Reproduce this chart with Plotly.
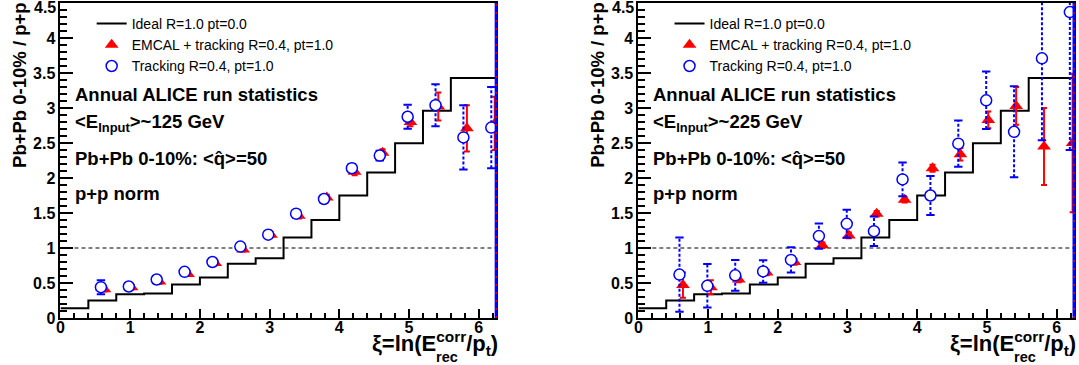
import plotly.graph_objects as go

# ---------------- data ----------------
bin_edges = [0.0, 0.4, 0.8, 1.2, 1.6, 2.0, 2.4, 2.8, 3.2, 3.6, 4.0, 4.4, 4.8, 5.2, 5.6, 6.0, 6.4]
ideal = [0.14, 0.25, 0.34, 0.35, 0.48, 0.58, 0.775, 0.855, 1.15, 1.40, 1.75, 2.08, 2.495, 2.96, 3.43, 3.43]

# <E_Input> ~ 125 GeV
emc125_x = [0.63, 1.02, 1.42, 1.83, 2.22, 2.62, 3.02, 3.42, 3.82, 4.22, 4.62, 5.02, 5.42, 5.83, 6.23]
emc125_y = [0.41, 0.44, 0.52, 0.63, 0.785, 0.98, 1.19, 1.46, 1.72, 2.09, 2.36, 2.80, 3.02, 2.71, 2.78]
emc125_err = [0.03, 0.03, 0.03, 0.03, 0.03, 0.03, 0.03, 0.04, 0.04, 0.05, 0.05, 0.06, 0.20, 0.33, 0.38]
trk125_x = [0.58, 0.98, 1.38, 1.78, 2.18, 2.58, 2.98, 3.38, 3.78, 4.18, 4.58, 4.98, 5.38, 5.78, 6.18]
trk125_y = [0.44, 0.45, 0.55, 0.66, 0.80, 1.02, 1.19, 1.49, 1.70, 2.14, 2.32, 2.875, 3.04, 2.58, 2.72]
trk125_err = [0.10, 0.05, 0.05, 0.04, 0.04, 0.04, 0.04, 0.05, 0.05, 0.06, 0.07, 0.17, 0.30, 0.46, 0.58]

# <E_Input> ~ 225 GeV
emc225_x = [0.64, 1.04, 1.44, 1.84, 2.24, 2.64, 3.02, 3.42, 3.82, 4.22, 4.62, 5.02, 5.42, 5.82, 6.23]
emc225_y = [0.47, 0.44, 0.55, 0.65, 0.80, 1.04, 1.18, 1.49, 1.69, 2.14, 2.34, 2.83, 3.03, 2.45, 2.50]
emc225_err = [0.18, 0.10, 0.04, 0.04, 0.04, 0.04, 0.04, 0.04, 0.04, 0.05, 0.09, 0.12, 0.27, 0.55, 0.99]
trk225_x = [0.59, 0.99, 1.39, 1.79, 2.19, 2.59, 2.99, 3.38, 3.79, 4.19, 4.59, 4.99, 5.39, 5.79, 6.19]
trk225_y = [0.62, 0.46, 0.61, 0.665, 0.83, 1.17, 1.345, 1.24, 1.98, 1.75, 2.49, 3.11, 2.66, 3.71, 4.37]
trk225_err = [0.53, 0.31, 0.22, 0.16, 0.18, 0.18, 0.20, 0.21, 0.24, 0.28, 0.33, 0.41, 0.65, 1.17, 1.97]

ref_level = 1.0
x_range = [0, 6.25]
y_range = [0, 4.5]
x_tick_vals = [0, 1, 2, 3, 4, 5, 6]
x_tick_text = ["0", "1", "2", "3", "4", "5", "6"]
y_tick_vals = [0, 0.5, 1, 1.5, 2, 2.5, 3, 3.5, 4, 4.5]
y_tick_text = ["0", "0.5", "1", "1.5", "2", "2.5", "3", "3.5", "4", "4.5"]

legend_labels = ["Ideal R=1.0 pt=0.0", "EMCAL + tracking R=0.4, pt=1.0", "Tracking R=0.4, pt=1.0"]
energy_labels = ["&lt;E<sub>Input</sub>&gt;~125 GeV", "&lt;E<sub>Input</sub>&gt;~225 GeV"]
text_lines = ["Annual ALICE run statistics", None, "Pb+Pb 0-10%: &lt;q\u0302&gt;=50", "p+p norm"]

# ---------------- layout geometry ----------------
W, H = 1079, 365
MT, MB = 3, 47
PH = H - MT - MB
FONT = "Liberation Sans, Arial, Helvetica, sans-serif"
RED = "#ff0000"
BLUE = "#0000ff"

def px2x(px):
    return px / W

def py2y(py):
    return (H - MB - py) / PH

def bold(labels):
    return [f"<b>{t}</b>" for t in labels]

panels = [
    dict(xa="x", ya="y", xaxis="xaxis", yaxis="yaxis", legend="legend", off=0.0,
         dom=[56.7 / W, 494.0 / W],
         emc=(emc125_x, emc125_y, emc125_err), trk=(trk125_x, trk125_y, trk125_err), energy=energy_labels[0]),
    dict(xa="x2", ya="y2", xaxis="xaxis2", yaxis="yaxis2", legend="legend2", off=580.0,
         dom=[636.7 / W, 1074.0 / W],
         emc=(emc225_x, emc225_y, emc225_err), trk=(trk225_x, trk225_y, trk225_err), energy=energy_labels[1]),
]

fig = go.Figure()
annotations = []
shapes = []
layout_axes = {}
tickfont = dict(family=FONT, size=16, color="black", weight="bold")

for p in panels:
    xa, ya = p["xa"], p["ya"]
    # ideal step histogram
    fig.add_trace(go.Scatter(
        x=bin_edges, y=ideal + [ideal[-1]], mode="lines", line=dict(color="black", width=2, shape="hv"),
        name=legend_labels[0], xaxis=xa, yaxis=ya, legend=p["legend"]))
    # EMCAL + tracking
    ex, ey, ee = p["emc"]
    fig.add_trace(go.Scatter(
        x=ex, y=ey, mode="markers", name=legend_labels[1], xaxis=xa, yaxis=ya, legend=p["legend"],
        marker=dict(symbol="triangle-up", size=12, color=RED, line=dict(width=0)),
        error_y=dict(type="data", array=ee, color=RED, thickness=2, width=3)))
    # tracking dashed error bars
    tx, ty, te = p["trk"]
    bx, by = [], []
    for xi, yi, ei in zip(tx, ty, te):
        bx += [xi, xi, None]
        by += [yi - ei, yi + ei, None]
    fig.add_trace(go.Scatter(
        x=bx, y=by, mode="lines+markers", showlegend=False, xaxis=xa, yaxis=ya, hoverinfo="skip",
        line=dict(color=BLUE, width=2, dash="3px,2px"),
        marker=dict(symbol="line-ew", size=6, line=dict(color=BLUE, width=2))))
    fig.add_trace(go.Scatter(
        x=tx, y=ty, mode="markers", name=legend_labels[2], xaxis=xa, yaxis=ya, legend=p["legend"],
        marker=dict(symbol="circle", size=11, color="white", line=dict(color=BLUE, width=1.5))))

    layout_axes[p["xaxis"]] = dict(
        domain=p["dom"], range=x_range, anchor=ya, showgrid=False, zeroline=False,
        showline=True, mirror=True, linecolor="black", linewidth=2,
        ticks="inside", ticklen=9, tickwidth=1.5, tickcolor="black",
        tickmode="array", tickvals=x_tick_vals, ticktext=bold(x_tick_text), ticklabelstandoff=-6,
        minor=dict(dtick=0.2, tick0=0, ticks="inside", ticklen=5, tickwidth=1.5, tickcolor="black", showgrid=False),
        tickfont=tickfont)
    layout_axes[p["yaxis"]] = dict(
        domain=[0, 1], range=y_range, anchor=xa, showgrid=False, zeroline=False,
        showline=True, mirror=True, linecolor="black", linewidth=2,
        ticks="inside", ticklen=13, tickwidth=1.5, tickcolor="black",
        tickmode="array", tickvals=y_tick_vals, ticktext=bold(y_tick_text),
        minor=dict(dtick=0.1, tick0=0, ticks="inside", ticklen=7, tickwidth=1.5, tickcolor="black", showgrid=False),
        tickfont=tickfont)

    # top tick label (plotly drops the label at the very edge of the figure)
    annotations.append(dict(text=bold(y_tick_text)[-1], x=p["dom"][0], y=y_tick_vals[-1], xref="paper", yref=ya,
                            xanchor="right", yanchor="middle", xshift=-2, yshift=-4, showarrow=False,
                            font=tickfont))

    # reference dashed line at ratio 1
    shapes.append(dict(type="line", xref=f"{xa} domain", yref=ya, x0=0, x1=1, y0=ref_level, y1=ref_level,
                       line=dict(color="black", width=1, dash="4px,3px"), layer="below"))
    # right-edge blue/red band
    shapes.append(dict(type="line", xref=f"{xa} domain", yref=f"{ya} domain", x0=1, x1=1, y0=0, y1=1,
                       line=dict(color=BLUE, width=3)))
    shapes.append(dict(type="line", xref=f"{xa} domain", yref=f"{ya} domain", x0=1, x1=1, y0=0, y1=1,
                       line=dict(color=RED, width=1.2, dash="2px,6px")))

    off = p["off"]
    # text block
    lines = [text_lines[0], p["energy"], text_lines[2], text_lines[3]]
    ys = [95, 123, 158, 193]
    for t, yy in zip(lines, ys):
        annotations.append(dict(text=t, x=px2x(69.5 + off), y=py2y(yy), xref="paper", yref="paper",
                                xanchor="left", yanchor="middle", showarrow=False,
                                font=dict(family=FONT, size=18.5, color="black", weight="bold")))
    # y title
    annotations.append(dict(text="<b>Pb+Pb 0-10% / p+p</b>", x=px2x(16 + off), y=py2y(85), xref="paper", yref="paper",
                            xanchor="center", yanchor="middle", textangle=-90, showarrow=False,
                            font=dict(family=FONT, size=18.5, color="black")))
    # x title
    annotations.append(dict(text="<b>\u03be=ln(E<sup>corr</sup>/p<sub>t</sub>)</b>", x=px2x(498 + off), y=py2y(343),
                            xref="paper", yref="paper", xanchor="right", yanchor="middle", showarrow=False,
                            font=dict(family=FONT, size=22, color="black")))
    annotations.append(dict(text="<b>rec</b>", x=px2x(432 + off), y=py2y(357), xref="paper", yref="paper",
                            xanchor="left", yanchor="middle", showarrow=False,
                            font=dict(family=FONT, size=14.5, color="black")))

    layout_axes[p["legend"]] = dict(
        x=px2x(88 + off), y=py2y(8), xanchor="left", yanchor="top", bgcolor="rgba(0,0,0,0)",
        font=dict(family=FONT, size=14, color="black"), borderwidth=0)

fig.update_layout(
    width=W, height=H, margin=dict(l=0, r=0, t=MT, b=MB),
    paper_bgcolor="white", plot_bgcolor="white",
    annotations=annotations, shapes=shapes, **layout_axes)

fig.write_html("out.html")
